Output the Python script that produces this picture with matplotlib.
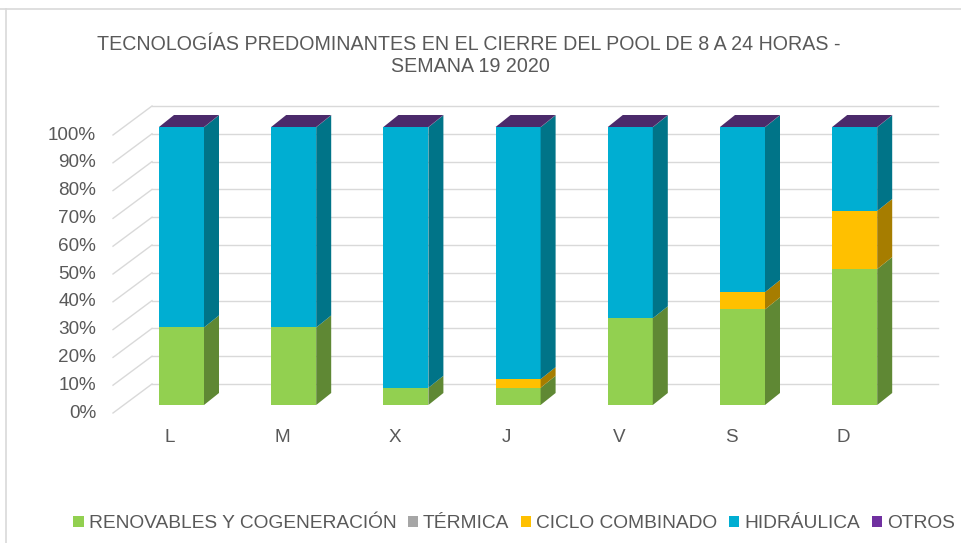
# -*- coding: utf-8 -*-
# 3D-look stacked columns (100%), semana 19 2020
import numpy as np
import matplotlib
matplotlib.use('Agg')
import matplotlib.pyplot as plt
from matplotlib.patches import Polygon, Patch
from matplotlib.lines import Line2D

plt.rcParams['font.family'] = ['Liberation Sans', 'DejaVu Sans']

# ********************************* data ************************************
dias = ['L', 'M', 'X', 'J', 'V', 'S', 'D']
renovables = [27.9, 27.9, 6.2, 6.2, 31.2, 34.4, 48.9]
termica = [0.0, 0.0, 0.0, 0.0, 0.0, 0.0, 0.0]
ciclo = [0.0, 0.0, 0.0, 3.1, 0.0, 6.2, 20.9]
hidraulica = [72.0, 72.0, 93.7, 90.6, 68.7, 59.3, 30.1]
otros = [0.1, 0.1, 0.1, 0.1, 0.1, 0.1, 0.1]
series_names = ['RENOVABLES Y COGENERACIÓN', 'TÉRMICA', 'CICLO COMBINADO', 'HIDRÁULICA', 'OTROS']
ticks_pct = [0, 10, 20, 30, 40, 50, 60, 70, 80, 90, 100]

front_col = ['#92D050', '#A6A6A6', '#FFC000', '#00AED2', '#7030A0']
side_col = ['#5F8834', '#6E6E6E', '#A67D00', '#007488', '#4B2A6B']
legend_col = ['#92D050', '#A6A6A6', '#FFC000', '#00AED2', '#7030A0']
txt_col = '#595959'
grid_col = '#D9D9D9'

# ********************************* layout ************************************
W, H = 961, 543
PX_X0, PX_STEP = 181.5, 112.2      # centre of first bar, spacing
PY_0, PY_SCALE = 405.0, 2.78        # pixel row of 0%, pixels per 1%


def xu(px):
    return (px - PX_X0) / PX_STEP


def yu(py):
    return (PY_0 - py) / PY_SCALE


bar_w = 45 / PX_STEP
ddx, ddy = 15 / PX_STEP, 12 / PY_SCALE     # depth of a bar
wall_dx, wall_dy = 39 / PX_STEP, 29 / PY_SCALE
plane_x = xu(113)      # front edge of the floor/ticks plane
plane_dy = -8 / PY_SCALE
wall_right = xu(938)

fig = plt.figure(figsize=(W / 100, H / 100), dpi=100)
ax = fig.add_axes([0, 0, 1, 1])
ax.set_xlim(xu(0), xu(W))
ax.set_ylim(yu(H), yu(0))
ax.axis('off')

# back wall grid + diagonals
for v in ticks_pct:
    yb = v + plane_dy + wall_dy
    ax.plot([plane_x + wall_dx, wall_right], [yb, yb], color=grid_col, lw=1.0, zorder=0)
    ax.plot([plane_x, plane_x + wall_dx], [v + plane_dy, yb], color=grid_col, lw=1.0, zorder=0)
    ax.text(xu(96), v + plane_dy, '%d%%' % v, ha='right', va='center',
            fontsize=13.6, color=txt_col)

# bars
x = np.arange(len(dias))
data = [renovables, termica, ciclo, hidraulica, otros]
bottom = np.zeros(len(dias))
for k in range(len(data)):
    vals = np.array(data[k])
    ax.bar(x, vals, bar_w, bottom=bottom, color=front_col[k], lw=0, zorder=2)
    for i in range(len(dias)):
        if vals[i] <= 0:
            continue
        xr = x[i] + bar_w / 2
        y0, y1 = bottom[i], bottom[i] + vals[i]
        ax.add_patch(Polygon([(xr, y0), (xr + ddx, y0 + ddy), (xr + ddx, y1 + ddy), (xr, y1)],
                             closed=True, fc=side_col[k], ec='none', zorder=2))
    bottom = bottom + vals

# top faces, coloured by the last non-zero series
for i in range(len(dias)):
    k_top = max(k for k in range(len(data)) if data[k][i] > 0)
    xl, xr, yt = x[i] - bar_w / 2, x[i] + bar_w / 2, bottom[i]
    ax.add_patch(Polygon([(xl, yt), (xl + ddx, yt + ddy), (xr + ddx, yt + ddy), (xr, yt)],
                         closed=True, fc=side_col[k_top], ec='none', zorder=3))

for i, d in enumerate(dias):
    ax.text(x[i] - 11.5 / PX_STEP, yu(437), d, ha='center', va='center',
            fontsize=13.6, color=txt_col)

# title
fig.text(469 / W, 1 - 44 / H, 'TECNOLOGÍAS PREDOMINANTES EN EL CIERRE DEL POOL DE 8 A 24 HORAS -',
         ha='center', va='center', fontsize=14.1, color=txt_col)
fig.text(470 / W, 1 - 66 / H, 'SEMANA 19 2020', ha='center', va='center',
         fontsize=14.1, color=txt_col)

# legend
handles = [Patch(fc=legend_col[k], ec='none') for k in range(len(series_names))]
fig.legend(handles, series_names, loc='center', bbox_to_anchor=(514 / W, 1 - 524 / H),
           ncol=5, frameon=False, fontsize=13.8, labelcolor=txt_col,
           handlelength=0.55, handleheight=0.55, handletextpad=0.25, columnspacing=0.6)

# chart border (cropped)
fig.add_artist(Line2D([0, 1], [1 - 9 / H, 1 - 9 / H], transform=fig.transFigure, color=grid_col, lw=1.2))
fig.add_artist(Line2D([6 / W, 6 / W], [0, 1 - 9 / H], transform=fig.transFigure, color=grid_col, lw=1.2))

fig.savefig('out.png', dpi=100)
